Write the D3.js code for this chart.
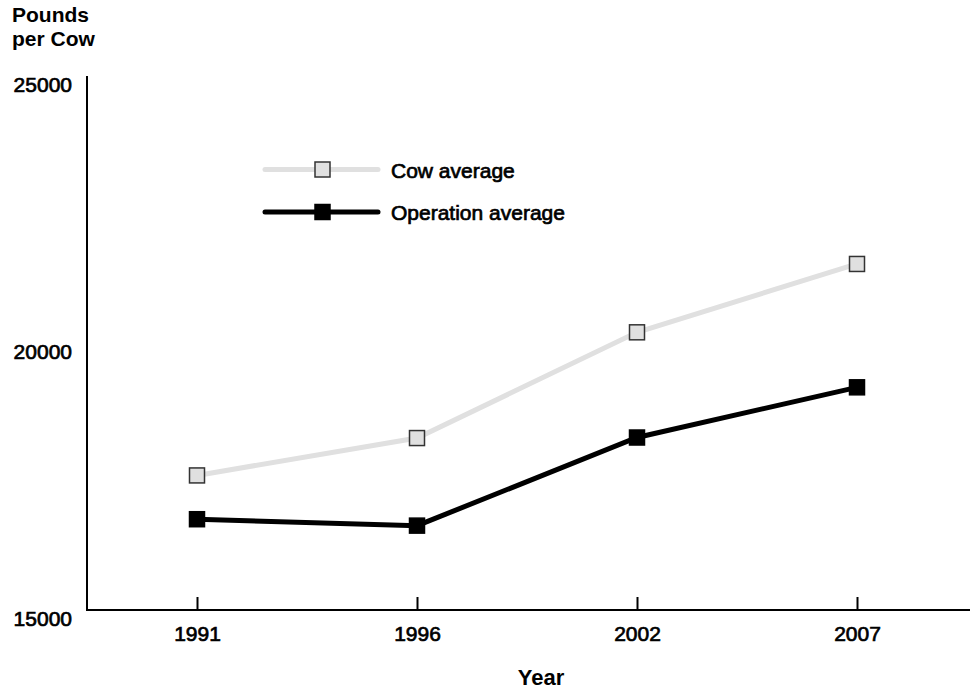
<!DOCTYPE html>
<html>
<head>
<meta charset="utf-8">
<script src="https://cdn.jsdelivr.net/npm/d3@7/dist/d3.min.js"></script>
<style>
  html, body { margin: 0; padding: 0; background: #fff; }
  svg { display: block; font-family: "Liberation Sans", Arial, sans-serif; }
</style>
</head>
<body>
<svg id="chart" width="972" height="690"></svg>
<script>
const years = ["1991", "1996", "2002", "2007"];
const cowAverage = [17520, 18220, 20200, 21480];
const operationAverage = [16700, 16580, 18230, 19170];
const yTicks = [15000, 20000, 25000];
const seriesNames = ["Cow average", "Operation average"];
const titleLines = ["Pounds", "per Cow"];

const svg = d3.select("#chart");
const x = d3.scalePoint().domain(years).range([87, 967]).padding(0.5);
const y = d3.scaleLinear().domain([15000, 25000]).range([610, 76]);

const series = [
  { name: seriesNames[0], values: cowAverage, line: "#e0e0e0", fill: "#e0e0e0", stroke: "#333" },
  { name: seriesNames[1], values: operationAverage, line: "#000", fill: "#000", stroke: "#000" }
];

const labelFont = "Liberation Sans, Arial, sans-serif";

// Axes
const xAxis = d3.axisBottom(x).tickSizeInner(-13).tickSizeOuter(0).tickPadding(0);
const gx = svg.append("g").attr("transform", "translate(0,610)").call(xAxis);
gx.select(".domain").remove();
gx.append("line").attr("x1", 86).attr("x2", 970).attr("y1", 0).attr("y2", 0)
  .attr("stroke", "#000").attr("stroke-width", 2);
gx.selectAll(".tick line").attr("stroke", "#000").attr("stroke-width", 2);
gx.selectAll(".tick text").attr("y", 31).attr("dy", 0)
  .attr("font-size", 21).attr("fill", "#000").attr("font-family", labelFont)
  .attr("stroke", "#000").attr("stroke-width", 0.7);

const yAxis = d3.axisLeft(y).tickValues(yTicks).tickSize(0).tickPadding(15).tickFormat(d3.format("d"));
const gy = svg.append("g").attr("transform", "translate(87,0)").call(yAxis);
gy.select(".domain").remove();
gy.append("line").attr("x1", 0).attr("x2", 0).attr("y1", 76).attr("y2", 611)
  .attr("stroke", "#000").attr("stroke-width", 2);
gy.selectAll(".tick text").attr("dy", 0).attr("y", 15)
  .attr("font-size", 21).attr("fill", "#000").attr("font-family", labelFont)
  .attr("stroke", "#000").attr("stroke-width", 0.7);

// Title (two separate lines)
titleLines.forEach((t, i) => {
  svg.append("text").attr("x", 12).attr("y", 22 + i * 24)
    .attr("font-size", 21).attr("font-weight", "bold").attr("fill", "#000").text(t);
});

svg.append("text").attr("x", 541).attr("y", 685).attr("text-anchor", "middle")
  .attr("font-size", 22).attr("font-weight", "bold").attr("fill", "#000").text("Year");

// Lines
const line = d3.line().x((d, i) => x(years[i])).y(d => y(d));
const msize = 15;
series.forEach(s => {
  svg.append("path").datum(s.values).attr("d", line)
    .attr("fill", "none").attr("stroke", s.line).attr("stroke-width", 5);
  svg.selectAll(null).data(s.values).enter().append("rect")
    .attr("x", (d, i) => x(years[i]) - msize / 2)
    .attr("y", d => y(d) - msize / 2)
    .attr("width", msize).attr("height", msize)
    .attr("fill", s.fill).attr("stroke", s.stroke).attr("stroke-width", 1.5);
});

// Legend
const legendY = [169.5, 212];
series.forEach((s, i) => {
  const g = svg.append("g");
  g.append("line").attr("x1", 265).attr("x2", 378).attr("y1", legendY[i]).attr("y2", legendY[i])
    .attr("stroke", s.line).attr("stroke-width", 5).attr("stroke-linecap", "round");
  g.append("rect").attr("x", 322.5 - msize / 2).attr("y", legendY[i] - msize / 2)
    .attr("width", msize).attr("height", msize)
    .attr("fill", s.fill).attr("stroke", s.stroke).attr("stroke-width", 1.5);
  g.append("text").attr("x", 391).attr("y", legendY[i] + 8)
    .attr("font-size", 21).attr("fill", "#000").attr("font-family", labelFont)
    .attr("stroke", "#000").attr("stroke-width", 0.7)
    .text(s.name);
});
</script>
</body>
</html>
